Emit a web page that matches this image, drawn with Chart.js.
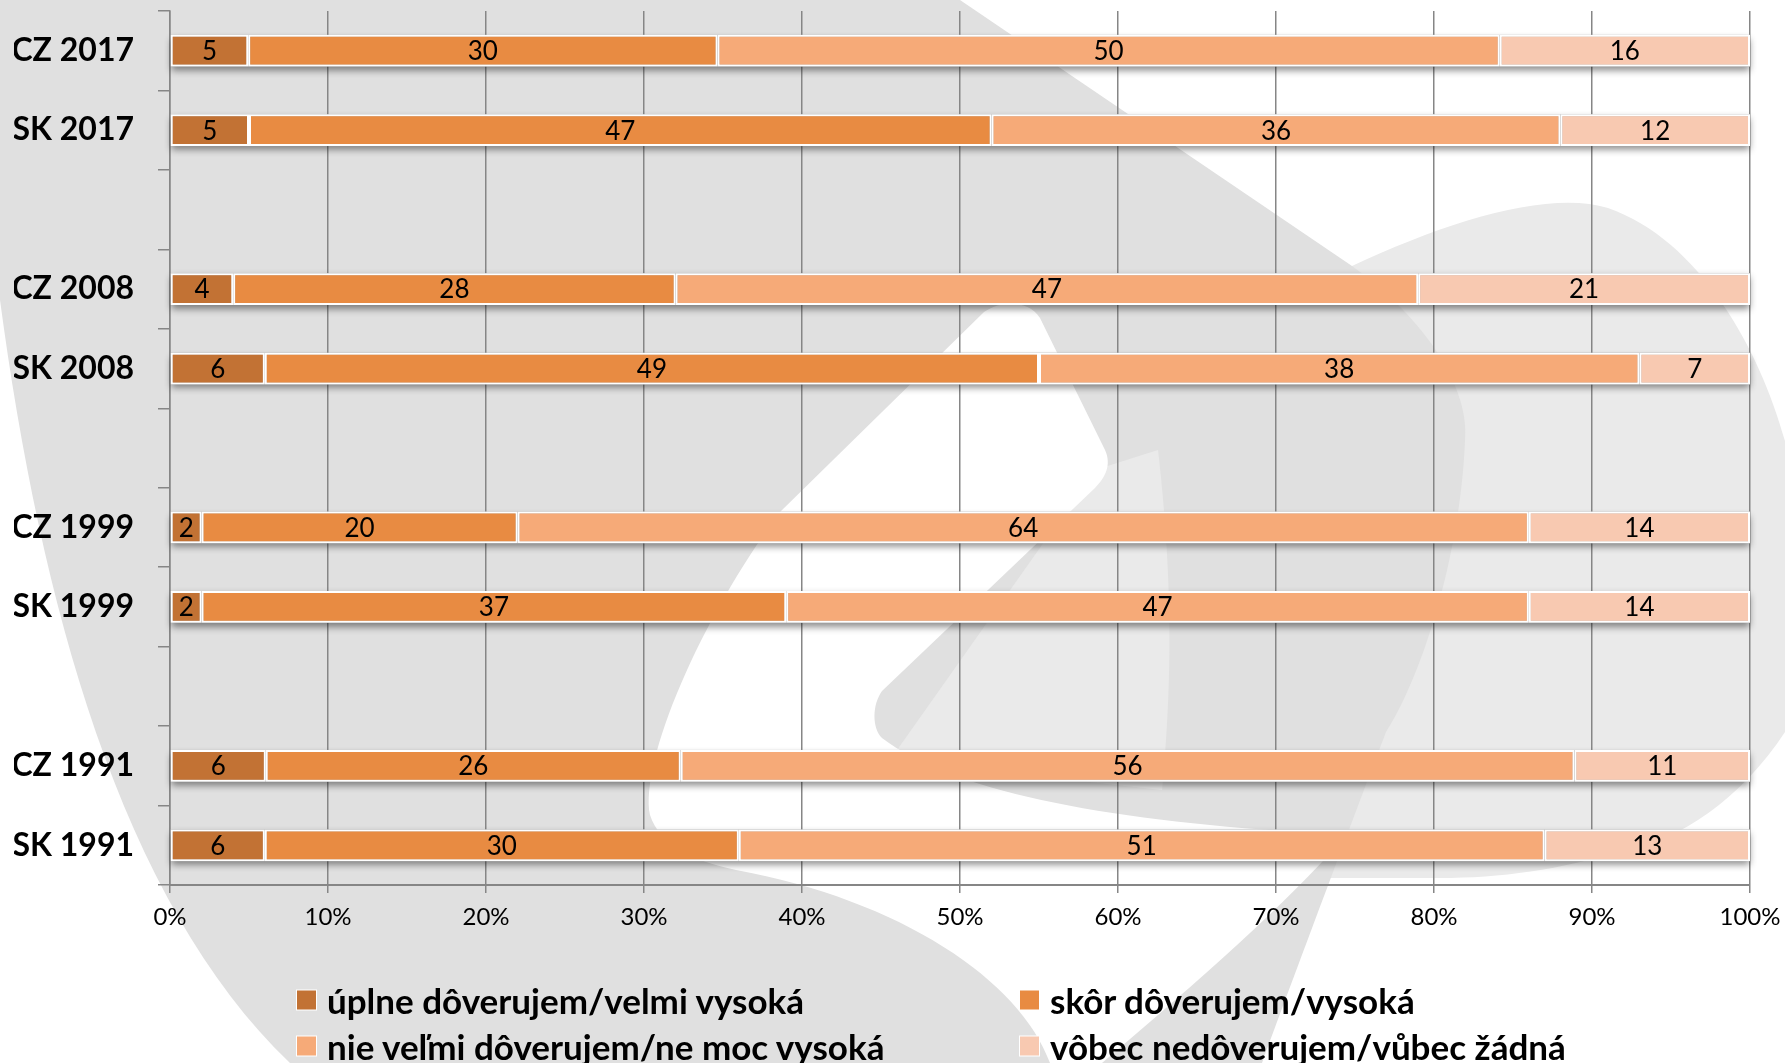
<!DOCTYPE html>
<html><head><meta charset="utf-8">
<script src="https://cdn.jsdelivr.net/npm/chart.js@4/dist/chart.umd.min.js"></script>
<style>
html,body{margin:0;padding:0;background:#fff;}
#wrap{position:relative;width:1785px;height:1063px;overflow:hidden;}
canvas{position:absolute;left:0;top:0;}
.lg{position:absolute;font-family:Lato,'Open Sans',sans-serif;font-weight:700;font-size:35px;color:#000;white-space:nowrap;line-height:1;display:flex;align-items:center;transform:translateY(-50%);}
.lg i{display:inline-block;width:19px;height:19px;margin-right:11px;box-shadow:0 0 0 1px #fff;}
</style></head><body>
<div id="wrap"><canvas id="c" width="1785" height="1063"></canvas><div id="legend"></div></div>
<script>
const categories = ['CZ 2017','SK 2017','','CZ 2008','SK 2008','','CZ 1999','SK 1999','','CZ 1991','SK 1991'];
const seriesNames = ['úplne dôverujem/velmi vysoká','skôr dôverujem/vysoká','nie veľmi dôverujem/ne moc vysoká','vôbec nedôverujem/vůbec žádná'];
const fullyTrust    = [5, 5, null, 4, 6, null, 2, 2, null, 6, 6];
const ratherTrust   = [30, 47, null, 28, 49, null, 20, 37, null, 26, 30];
const notVeryTrust  = [50, 36, null, 47, 38, null, 64, 47, null, 56, 51];
const notAtAllTrust = [16, 12, null, 21, 7, null, 14, 14, null, 11, 13];
const xTickLabels = ['0%','10%','20%','30%','40%','50%','60%','70%','80%','90%','100%'];
const seriesColors = ['#C27234','#E88B42','#F6AA78','#F8C9B1'];

const rawSeries = [fullyTrust, ratherTrust, notVeryTrust, notAtAllTrust];
const totals = categories.map((c,i)=>rawSeries.reduce((s,a)=>s+(a[i]||0),0));
const pct = rawSeries.map(a=>a.map((v,i)=>v==null?null:v/totals[i]*100));

const watermark = {
  id:'watermark',
  beforeDraw(chart){
    const ctx = chart.ctx;
    ctx.save();
    ctx.fillStyle='#fff'; ctx.fillRect(0,0,chart.width,chart.height);
    // light arc on the right
    ctx.fillStyle='#EAEAEA';
    ctx.beginPath();
    ctx.moveTo(1352,266);
    ctx.bezierCurveTo(1450,220,1550,190,1608,208);
    ctx.bezierCurveTo(1700,240,1760,350,1785,441);
    ctx.lineTo(1785,732);
    ctx.bezierCurveTo(1740,800,1680,840,1625,850);
    ctx.bezierCurveTo(1560,870,1500,878,1440,878);
    ctx.lineTo(1300,878);
    ctx.closePath(); ctx.fill();
    // main gray shape
    ctx.fillStyle='#E0E0E0';
    ctx.beginPath();
    ctx.moveTo(0,0);
    ctx.lineTo(960,0);
    ctx.lineTo(1352,266);
    ctx.bezierCurveTo(1440,330,1470,400,1465,441);
    ctx.bezierCurveTo(1460,560,1420,680,1386,732);
    ctx.bezierCurveTo(1360,800,1300,960,1262,1063);
    ctx.lineTo(290,1063);
    ctx.bezierCurveTo(120,900,40,600,0,300);
    ctx.closePath(); ctx.fill();
    // lighter inner part
    ctx.fillStyle='#EAEAEA';
    ctx.beginPath();
    ctx.moveTo(1095,470);
    ctx.lineTo(1158,450);
    ctx.bezierCurveTo(1175,600,1170,700,1162,790);
    ctx.lineTo(890,760);
    ctx.closePath(); ctx.fill();
    // white leaf-shaped hole with bottom band and V
    ctx.fillStyle='#fff';
    ctx.beginPath();
    ctx.moveTo(984,312);
    ctx.bezierCurveTo(1005,298,1030,302,1040,318);
    ctx.lineTo(1105,450);
    ctx.bezierCurveTo(1112,465,1105,478,1095,488);
    ctx.lineTo(882,691);
    ctx.bezierCurveTo(872,705,872,728,882,738);
    ctx.bezierCurveTo(950,790,1100,820,1300,832);
    ctx.lineTo(1340,842);
    ctx.bezierCurveTo(1290,900,1200,980,1102,1063);
    ctx.lineTo(1050,1063);
    ctx.bezierCurveTo(1020,980,900,900,736,870);
    ctx.bezierCurveTo(690,860,660,845,650,815);
    ctx.bezierCurveTo(640,760,700,620,780,512);
    ctx.closePath(); ctx.fill();
    ctx.restore();
  }
};

const barShadow = {
  id:'barShadow',
  beforeDatasetsDraw(chart){
    const ctx = chart.ctx;
    const first = chart.getDatasetMeta(0), last = chart.getDatasetMeta(chart.data.datasets.length-1);
    ctx.save();
    ctx.shadowColor='rgba(0,0,0,0.45)'; ctx.shadowBlur=7; ctx.shadowOffsetY=4;
    ctx.fillStyle='#bbb';
    first.data.forEach((el,i)=>{
      if (rawSeries[0][i]==null) return;
      const l = el.base, r = last.data[i].x, h = el.height;
      ctx.fillRect(l, el.y-h/2, r-l, h);
    });
    ctx.restore();
  }
};

const valueLabels = {
  id:'valueLabels',
  afterDatasetsDraw(chart){
    const ctx = chart.ctx;
    ctx.save();
    ctx.font = '26px Lato, "Open Sans", sans-serif';
    ctx.fillStyle='#000'; ctx.textAlign='center'; ctx.textBaseline='middle';
    chart.data.datasets.forEach((ds,d)=>{
      chart.getDatasetMeta(d).data.forEach((el,i)=>{
        const v = rawSeries[d][i];
        if (v==null) return;
        ctx.fillText(String(v), (el.x+el.base)/2, el.y+1);
      });
    });
    ctx.restore();
  }
};

new Chart(document.getElementById('c'), {
  type:'bar',
  data:{
    labels: categories,
    datasets: seriesNames.map((n,d)=>({
      label:n, data:pct[d], backgroundColor:seriesColors[d],
      borderColor:'#fff', borderWidth:2, borderSkipped:false,
      barPercentage:0.4, categoryPercentage:1
    }))
  },
  options:{
    indexAxis:'y', responsive:false, animation:false,
    layout:{padding:{left:14,right:35,top:11,bottom:118}},
    plugins:{legend:{display:false},tooltip:{enabled:false}},
    scales:{
      x:{stacked:true,min:0,max:100,
        ticks:{stepSize:10,color:'#000',font:{family:'Lato',size:24},padding:10,maxRotation:0,
          callback:(v,i)=>xTickLabels[i]},
        grid:{color:'#868686',lineWidth:1.5,tickLength:8},
        border:{color:'#868686',width:2},
        afterFit:s=>{s.height=60; s.paddingLeft=0; s.paddingRight=0;}},
      y:{stacked:true,
        ticks:{color:'#000',font:{family:'Lato',size:32,weight:'bold'},padding:24,autoSkip:false},
        grid:{drawOnChartArea:false,color:'#868686',lineWidth:1.5,tickLength:12,offset:true},
        border:{color:'#868686',width:1.5},
        afterFit:s=>{s.width=156; s.paddingTop=0; s.paddingBottom=0;}}
    }
  },
  plugins:[watermark,barShadow,valueLabels]
});

const legendPos = [[297,1000],[1020,1000],[297,1046],[1020,1046]];
const lg = document.getElementById('legend');
seriesNames.forEach((n,d)=>{
  const div=document.createElement('div');
  div.className='lg';
  div.style.left=legendPos[d][0]+'px'; div.style.top=legendPos[d][1]+'px';
  const sq=document.createElement('i'); sq.style.background=seriesColors[d];
  div.appendChild(sq); div.appendChild(document.createTextNode(n));
  lg.appendChild(div);
});
</script>
</body></html>
